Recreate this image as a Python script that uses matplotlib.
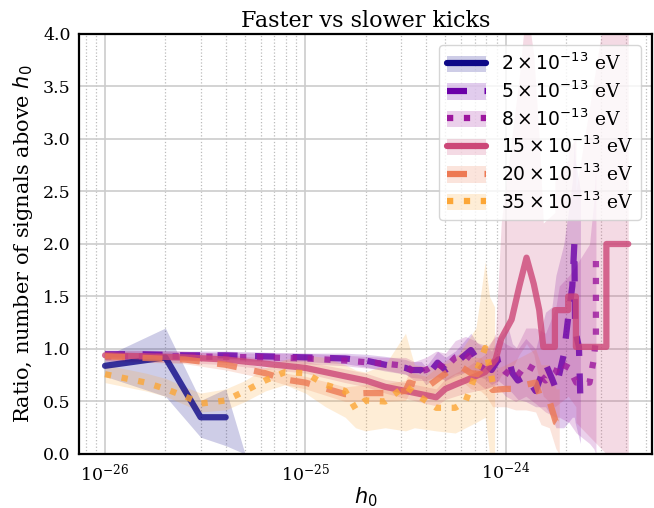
import numpy as np
import matplotlib
matplotlib.use("Agg")
import matplotlib.pyplot as plt
from matplotlib.lines import Line2D
from matplotlib.patches import Patch
from matplotlib.ticker import LogLocator

# ---------------------------------------------------------------------------
#  Data (h0 in units of 1e-26)
# ---------------------------------------------------------------------------
h_2 = [1, 2, 3, 4, 5]
r_2 = [0.84, 0.92, 0.35, 0.35, np.nan]
lo_2 = [0.74, 0.55, 0.16, 0.08, 0.0]
hi_2 = [0.93, 1.20, 0.51, 0.62, 0.0]

h_5 = [1, 1.5, 2.5, 4, 6.3, 10, 15.8, 20, 25, 31.6, 33.7, 37.9, 39.9, 45.7, 50,
       56, 59.8, 67, 72, 78, 85, 91.7, 103, 108, 115, 126, 141, 158, 170, 178,
       195, 205, 215, 220, 222, 232, 236]
r_5 = [0.95, 0.95, 0.94, 0.94, 0.93, 0.92, 0.91, 0.89, 0.85, 0.82, 0.80, 0.80,
       0.73, 0.87, 0.80, 0.86, 0.91, 0.99, 0.90, 0.87, 0.80, 0.90, 0.92, 0.77,
       0.70, 0.74, 0.60, 0.86, 0.72, 0.62, 0.95, 1.30, 1.60, 2.00, 1.18, 1.02,
       0.50]
lo_5 = [0.91, 0.91, 0.90, 0.90, 0.89, 0.88, 0.86, 0.83, 0.79, 0.76, 0.73, 0.72,
        0.66, 0.74, 0.70, 0.74, 0.76, 0.80, 0.74, 0.72, 0.66, 0.70, 0.62, 0.58,
        0.52, 0.50, 0.45, 0.45, 0.35, 0.25, 0.25, 0.30, 0.35, 0.35, 0.30, 0.15,
        0.10]
hi_5 = [0.99, 0.99, 0.98, 0.98, 0.97, 0.96, 0.96, 0.95, 0.93, 0.90, 0.88, 0.88,
        0.83, 0.98, 0.92, 0.98, 1.04, 1.15, 1.06, 1.04, 0.98, 1.10, 1.20, 1.05,
        1.00, 1.10, 1.00, 1.35, 1.40, 1.70, 2.00, 2.30, 2.60, 3.00, 2.80, 2.60,
        2.50]

h_8 = [1, 2.5, 6.3, 10, 15.8, 25, 31.6, 35, 40, 45, 50, 56, 63, 70, 79, 89,
       100, 112, 126, 141, 158, 178, 185, 207, 225, 262, 275, 282, 282]
r_8 = [0.93, 0.93, 0.92, 0.91, 0.89, 0.86, 0.84, 0.78, 0.80, 0.86, 0.82, 0.92,
       0.95, 0.88, 0.80, 0.88, 0.78, 0.72, 0.85, 0.80, 0.70, 0.78, 0.87, 0.82,
       0.68, 0.68, 0.90, 1.10, 1.92]
lo_8 = [0.89, 0.89, 0.88, 0.86, 0.84, 0.80, 0.76, 0.70, 0.70, 0.74, 0.70, 0.76,
        0.78, 0.70, 0.62, 0.66, 0.55, 0.50, 0.55, 0.48, 0.40, 0.35, 0.35, 0.30,
        0.20, 0.10, 0.05, 0.0, 0.0]
hi_8 = [0.97, 0.97, 0.96, 0.96, 0.94, 0.92, 0.92, 0.88, 0.92, 0.98, 0.96, 1.08,
        1.12, 1.08, 1.00, 1.12, 1.05, 1.00, 1.20, 1.20, 1.15, 1.40, 1.60, 1.70,
        1.80, 2.00, 2.40, 2.80, 2.90]

h_15 = [1, 2.5, 4, 6.3, 10, 15.8, 20, 25, 31.6, 40, 45, 50, 56, 63, 79, 89, 95,
        107, 117, 127, 138, 147, 154, 176, 176, 205, 205, 224, 224, 318, 318, 409]
r_15 = [0.94, 0.92, 0.90, 0.86, 0.82, 0.74, 0.70, 0.64, 0.60, 0.56, 0.54, 0.62,
        0.66, 0.70, 0.78, 0.90, 1.10, 1.28, 1.60, 1.87, 1.62, 1.37, 1.02, 1.02,
        1.37, 1.37, 1.50, 1.50, 1.02, 1.02, 2.00, 2.00]
lo_15 = [0.88, 0.87, 0.85, 0.81, 0.77, 0.68, 0.64, 0.58, 0.53, 0.48, 0.46, 0.52,
         0.55, 0.58, 0.62, 0.65, 0.75, 0.80, 0.95, 1.05, 0.95, 0.70, 0.55, 0.45,
         0.45, 0.55, 0.55, 0.45, 0.30, 0.0, 0.0, 0.0]
hi_15 = [0.99, 0.98, 0.95, 0.91, 0.88, 0.81, 0.77, 0.71, 0.68, 0.64, 0.62, 0.72,
         0.77, 0.82, 0.95, 1.15, 2.20, 3.00, 3.60, 4.30, 3.80, 3.00, 2.20, 2.30,
         2.60, 2.80, 2.90, 3.00, 2.50, 4.30, 4.30, 4.30]

h_20 = [1, 2.5, 4, 6.3, 7.9, 10, 15.8, 20, 25, 31.6, 33, 40, 47, 53, 60, 67, 75,
        80, 86, 100, 112, 126, 141, 150, 165, 178, 185]
r_20 = [0.93, 0.90, 0.85, 0.77, 0.71, 0.68, 0.57, 0.58, 0.58, 0.60, 0.68, 0.63,
        0.73, 0.80, 0.83, 0.77, 0.76, 0.70, 0.61, 0.62, 0.62, 0.66, 0.68, 0.52,
        0.51, 0.30, 0.28]
lo_20 = [0.89, 0.86, 0.80, 0.72, 0.66, 0.62, 0.50, 0.50, 0.50, 0.51, 0.58, 0.53,
         0.62, 0.68, 0.70, 0.62, 0.60, 0.55, 0.45, 0.45, 0.42, 0.42, 0.40, 0.28,
         0.25, 0.05, 0.0]
hi_20 = [0.97, 0.94, 0.90, 0.82, 0.77, 0.74, 0.64, 0.66, 0.67, 0.70, 0.78, 0.74,
         0.85, 0.92, 0.96, 0.92, 0.92, 0.85, 0.80, 0.85, 0.90, 0.95, 1.00, 0.85,
         0.85, 0.62, 0.62]

h_35 = [1, 1.6, 2, 2.5, 3, 4, 5, 6.3, 7.9, 10, 12.6, 15.8, 17.8, 19.9, 25, 31.6,
        35, 45, 56, 63, 71, 79, 83, 88]
r_35 = [0.76, 0.68, 0.62, 0.55, 0.48, 0.51, 0.60, 0.70, 0.78, 0.77, 0.66, 0.60,
        0.43, 0.51, 0.50, 0.65, 0.58, 0.44, 0.44, 0.50, 0.77, 1.01, 0.83, 0.59]
lo_35 = [0.68, 0.60, 0.55, 0.47, 0.40, 0.42, 0.50, 0.60, 0.66, 0.58, 0.45, 0.35,
         0.25, 0.22, 0.25, 0.22, 0.25, 0.22, 0.20, 0.25, 0.30, 0.35, 0.0, 0.0]
hi_35 = [0.85, 0.77, 0.72, 0.64, 0.58, 0.62, 0.70, 0.82, 0.90, 0.94, 0.92, 0.85,
         0.80, 0.78, 0.85, 1.15, 0.85, 0.82, 0.90, 1.05, 1.20, 1.83, 1.50, 1.40]

labels = [r"$2\times10^{-13}$ eV", r"$5\times10^{-13}$ eV", r"$8\times10^{-13}$ eV",
          r"$15\times10^{-13}$ eV", r"$20\times10^{-13}$ eV", r"$35\times10^{-13}$ eV"]
colors = ["#0d0887", "#6a00a8", "#9c179e", "#cc4778", "#ed7953", "#fca636"]
styles = ["-", (0, (3.2, 2.8)), (0, (1, 1.7)), "-", (0, (3.2, 2.8)), (0, (1, 1.7))]

series = [(h_2, r_2, lo_2, hi_2), (h_5, r_5, lo_5, hi_5), (h_8, r_8, lo_8, hi_8),
          (h_15, r_15, lo_15, hi_15), (h_20, r_20, lo_20, hi_20),
          (h_35, r_35, lo_35, hi_35)]

# ---------------------------------------------------------------------------
#  Plotting
# ---------------------------------------------------------------------------
plt.rcParams["font.family"] = "DejaVu Serif"
plt.rcParams["mathtext.fontset"] = "dejavusans"

fig = plt.figure(figsize=(6.54, 5.08), dpi=100)
ax = fig.add_axes([0.1208, 0.1063, 0.8761, 0.8268])

handles = []
for (h, r, lo, hi), c, ls, lab in zip(series, colors, styles, labels):
    x = np.array(h) * 1e-26
    ax.fill_between(x, lo, hi, color=c, alpha=0.2, lw=0)
    ax.plot(x, r, color=c, ls=ls, lw=4.5, alpha=0.8, solid_capstyle="round")
    handles.append((Patch(facecolor=c, alpha=0.2, lw=0),
                    Line2D([], [], color=c, ls=ls, lw=4.5, solid_capstyle="round")))

ax.set_xscale("log")
ax.set_xlim(10**-26.13, 10**-23.27)
ax.set_xticks([1e-26, 1e-25, 1e-24])
ax.xaxis.set_minor_locator(LogLocator(base=10, subs=np.arange(2, 10)))
ax.set_ylim(0, 4)
ax.grid(True, which="major", color="#cccccc", lw=1.2)
ax.grid(True, which="minor", axis="x", color="#bbbbbb", ls=":", lw=0.9)
ax.set_axisbelow(True)
ax.tick_params(which="both", length=0, labelsize=12.5, pad=6)
for s in ax.spines.values():
    s.set_color("black")
    s.set_linewidth(1.6)

ax.set_xlabel("$h_0$", fontsize=15, labelpad=1)
ax.set_ylabel("Ratio, number of signals above $h_0$", fontsize=15, labelpad=6)
ax.set_title("Faster vs slower kicks", fontsize=16, pad=5)

ax.legend(handles, labels, loc="upper right", fontsize=13.5, handlelength=2.1,
          handleheight=0.95, labelspacing=0.33, framealpha=0.8, edgecolor="#cccccc",
          borderaxespad=0.6)

fig.savefig("out.png", dpi=100)
